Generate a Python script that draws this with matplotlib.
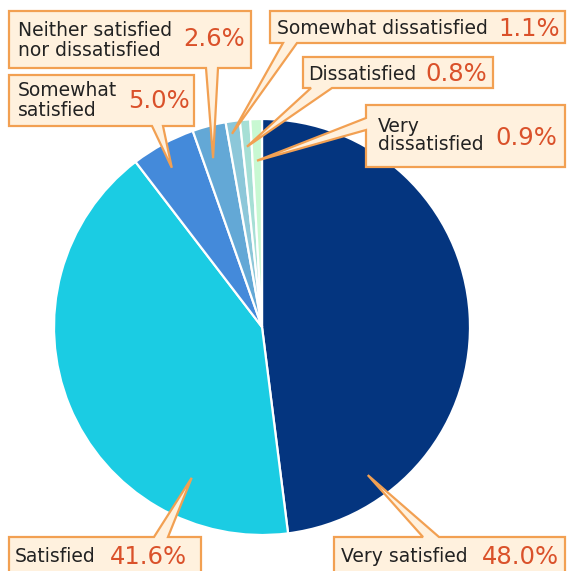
import matplotlib
matplotlib.use("Agg")
import matplotlib.pyplot as plt
from matplotlib.patches import Polygon
import numpy as np

# Survey satisfaction shares (%), clockwise from 12 o'clock
categories = ["Very satisfied", "Satisfied", "Somewhat satisfied",
              "Neither satisfied nor dissatisfied", "Somewhat dissatisfied",
              "Dissatisfied", "Very dissatisfied"]
values = [48.0, 41.6, 5.0, 2.6, 1.1, 0.8, 0.9]
label_lines = [["Very satisfied"], ["Satisfied"], ["Somewhat", "satisfied"],
               ["Neither satisfied", "nor dissatisfied"], ["Somewhat dissatisfied"],
               ["Dissatisfied"], ["Very", "dissatisfied"]]
colors = ["#04357F", "#1BCCE3", "#448ADA", "#63A8D6", "#8CC7D9", "#A6DFD5", "#C8F8D2"]

W, H = 568, 571
fig = plt.figure(figsize=(W / 100, H / 100), dpi=100)
ax = fig.add_axes([0, 0, 1, 1])


def up(y):
    """Convert a top-down pixel row to the axes' upward y."""
    return H - y


cx, cy, R = 262, up(327), 208
wedges, _ = ax.pie(values, colors=colors, startangle=90, counterclock=False,
                   center=(cx, cy), radius=R, frame=True,
                   wedgeprops=dict(edgecolor="white", linewidth=1.6))
ax.set_xlim(0, W)
ax.set_ylim(0, H)
ax.axis("off")

# Callout layout: box (x0, y0, x1, y1) top-down px, tail side, tail base span,
# tip position as (fraction across wedge, fraction of radius)
callouts = [
    dict(box=(334, 537, 565, 585), side="top", base=(423, 439), tip=(0.836, 0.875),
         text=[(341, 557)], pct=(482, 557)),
    dict(box=(9, 537, 201, 585), side="top", base=(154, 168), tip=(0.215, 0.80),
         text=[(15, 557)], pct=(110, 557)),
    dict(box=(9, 75, 194, 126), side="bottom", base=(152, 163), tip=(0.44, 0.88),
         text=[(18, 90), (18, 110)], pct=(128, 101)),
    dict(box=(9, 11, 251, 68), side="bottom", base=(206, 218), tip=(0.35, 0.845),
         text=[(18, 31), (18, 50)], pct=(183, 39)),
    dict(box=(270, 11, 565, 43), side="bottom", base=(283, 297), tip=(0.32, 0.94),
         text=[(277, 29)], pct=(498, 29)),
    dict(box=(303, 57, 493, 88), side="bottom", base=(311, 332), tip=(0.47, 0.87),
         text=[(308, 74)], pct=(425, 74)),
    dict(box=(366, 105, 565, 167), side="left", base=(118, 130), tip=(0.47, 0.80),
         text=[(378, 126), (378, 145)], pct=(495, 138)),
]

edge_c = "#F2A052"
fill_c = "#FFF1DE"
txt_c = "#222222"
pct_c = "#DA512A"

for w, v, lines, c in zip(wedges, values, label_lines, callouts):
    f, rf = c["tip"]
    ang = np.deg2rad(w.theta2 - f * (w.theta2 - w.theta1))
    tx = cx + rf * R * np.cos(ang)
    ty = cy + rf * R * np.sin(ang)
    x0, y0, x1, y1 = c["box"]
    b0, b1 = c["base"]
    side = c["side"]
    pts = [(x0, up(y0))]
    if side == "top":
        pts += [(b0, up(y0)), (tx, ty), (b1, up(y0))]
    pts += [(x1, up(y0)), (x1, up(y1))]
    if side == "bottom":
        pts += [(b1, up(y1)), (tx, ty), (b0, up(y1))]
    pts += [(x0, up(y1))]
    if side == "left":
        pts += [(x0, up(b1)), (tx, ty), (x0, up(b0))]
    ax.add_patch(Polygon(pts, closed=True, facecolor=fill_c, edgecolor=edge_c,
                         linewidth=1.6, joinstyle="miter", zorder=5))
    for (px, py), s in zip(c["text"], lines):
        ax.text(px, up(py), s, fontsize=13.5, color=txt_c, ha="left",
                va="center", family="DejaVu Sans", zorder=6)
    px, py = c["pct"]
    ax.text(px, up(py), f"{v:.1f}%", fontsize=17.5, color=pct_c, ha="left",
            va="center", family="DejaVu Sans", zorder=6)

fig.savefig("out.png", dpi=100, facecolor="white")
